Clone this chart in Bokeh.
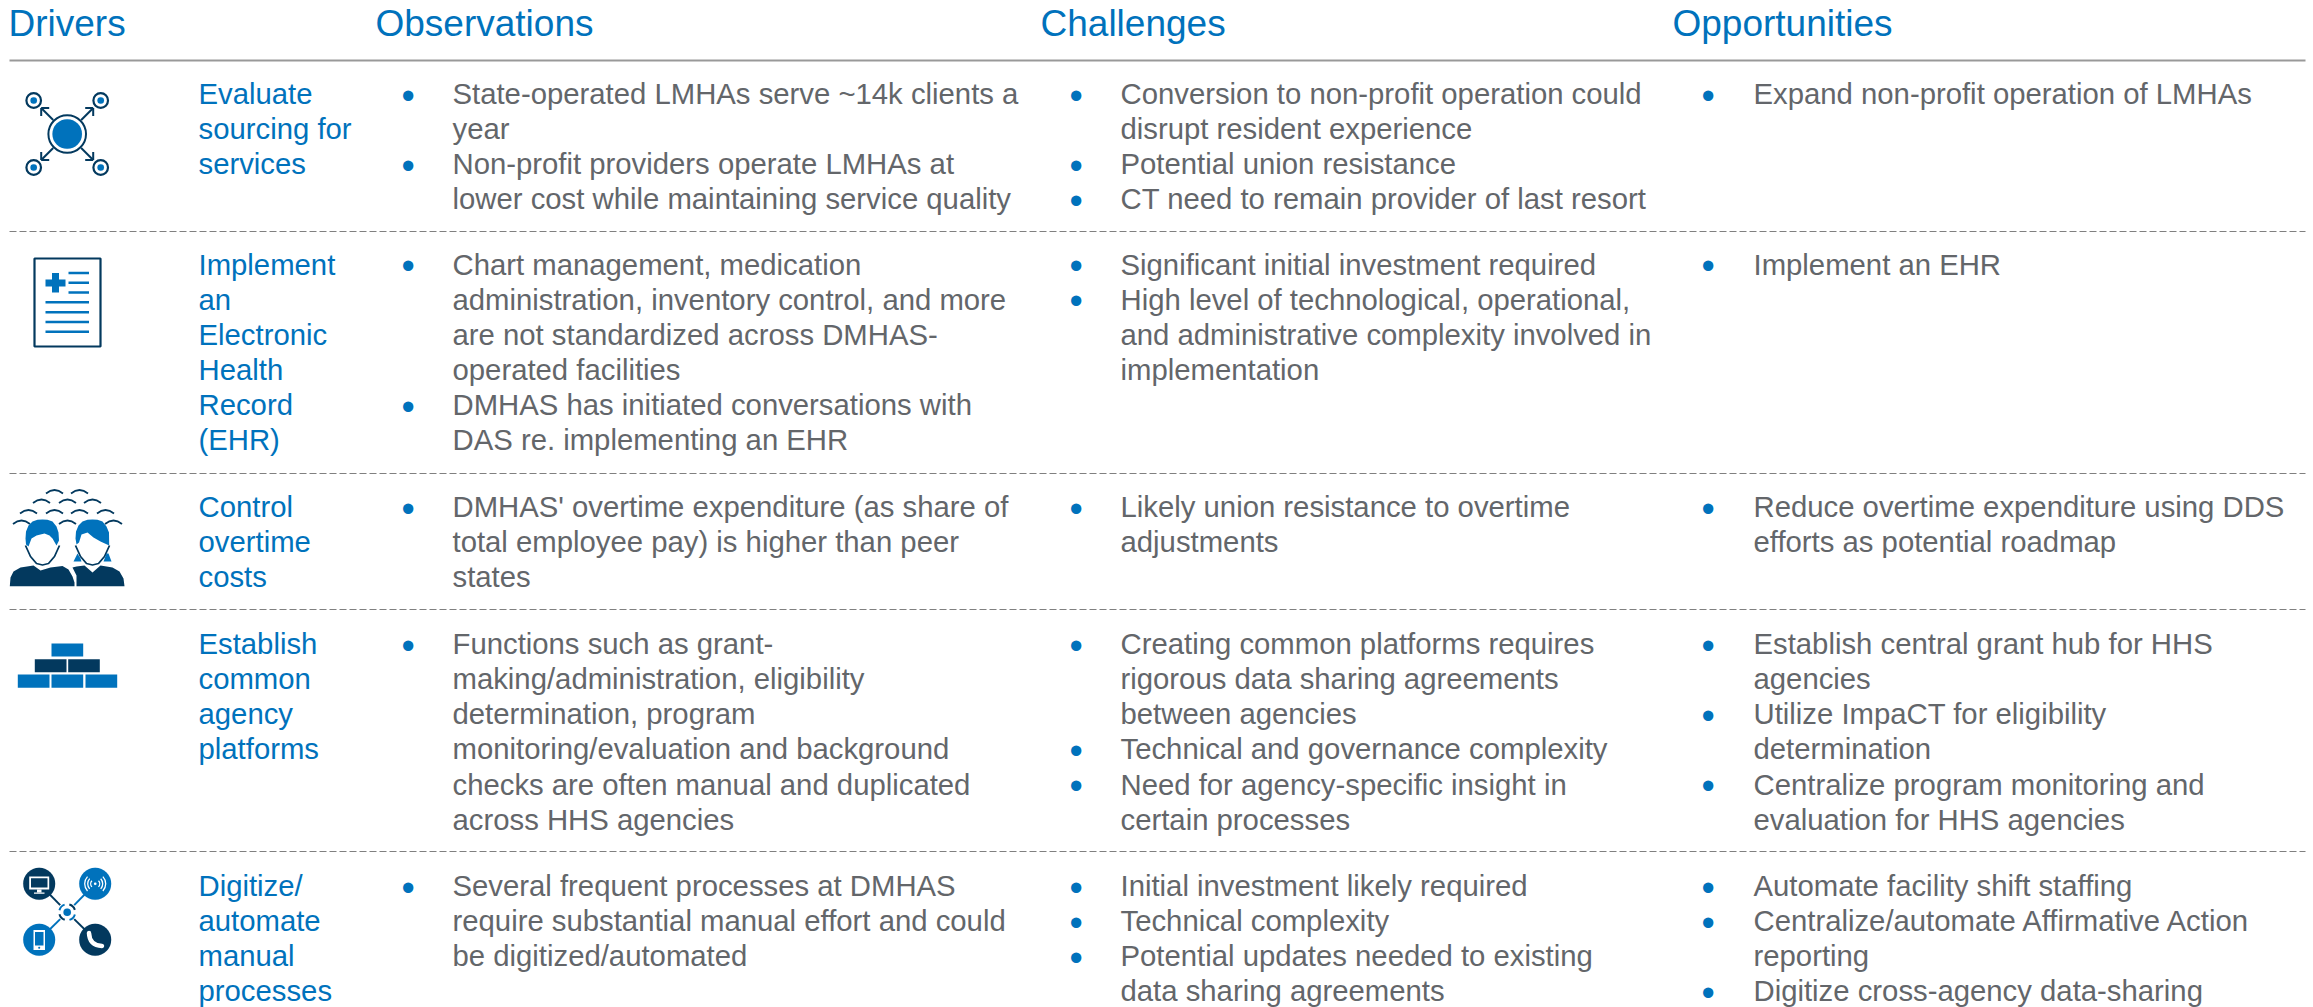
from bokeh.plotting import figure
from bokeh.models import Range1d
from bokeh.core.properties import value
from bokeh.embed import file_html
from bokeh.resources import INLINE

BLUE = "#0072BC"
NAVY = "#03395E"
GREY = "#63666A"
FONT = value("Liberation Sans")

headers = ["Drivers", "Observations", "Challenges", "Opportunities"]
drivers = [
    ["Evaluate", "sourcing for", "services"],
    ["Implement", "an", "Electronic", "Health", "Record", "(EHR)"],
    ["Control", "overtime", "costs"],
    ["Establish", "common", "agency", "platforms"],
    ["Digitize/", "automate", "manual", "processes"],
]
observations = [
    [["State-operated LMHAs serve ~14k clients a", "year"],
     ["Non-profit providers operate LMHAs at", "lower cost while maintaining service quality"]],
    [["Chart management, medication", "administration, inventory control, and more",
      "are not standardized across DMHAS-", "operated facilities"],
     ["DMHAS has initiated conversations with", "DAS re. implementing an EHR"]],
    [["DMHAS' overtime expenditure (as share of", "total employee pay) is higher than peer", "states"]],
    [["Functions such as grant-", "making/administration, eligibility", "determination, program",
      "monitoring/evaluation and background", "checks are often manual and duplicated", "across HHS agencies"]],
    [["Several frequent processes at DMHAS", "require substantial manual effort and could", "be digitized/automated"]],
]
challenges = [
    [["Conversion to non-profit operation could", "disrupt resident experience"],
     ["Potential union resistance"],
     ["CT need to remain provider of last resort"]],
    [["Significant initial investment required"],
     ["High level of technological, operational,", "and administrative complexity involved in", "implementation"]],
    [["Likely union resistance to overtime", "adjustments"]],
    [["Creating common platforms requires", "rigorous data sharing agreements", "between agencies"],
     ["Technical and governance complexity"],
     ["Need for agency-specific insight in", "certain processes"]],
    [["Initial investment likely required"],
     ["Technical complexity"],
     ["Potential updates needed to existing", "data sharing agreements"]],
]
opportunities = [
    [["Expand non-profit operation of LMHAs"]],
    [["Implement an EHR"]],
    [["Reduce overtime expenditure using DDS", "efforts as potential roadmap"]],
    [["Establish central grant hub for HHS", "agencies"],
     ["Utilize ImpaCT for eligibility", "determination"],
     ["Centralize program monitoring and", "evaluation for HHS agencies"]],
    [["Automate facility shift staffing"],
     ["Centralize/automate Affirmative Action", "reporting"],
     ["Digitize cross-agency data-sharing"]],
]

# layout
HEADER_X = [8, 375, 1040, 1672]
HEADER_Y = 36
DRIVER_X = 198
ROW_Y = [104, 274.5, 517, 654, 896]
LEAD = 35.15
COLS = [(observations, 401, 452), (challenges, 1069, 1120), (opportunities, 1701, 1753)]
RULE_Y = 60
DASH_Y = [231, 473, 609, 851]
XL, XR = 9, 2305
TEXT_DY = -11

p = figure(width=2313, height=1007, x_range=Range1d(0, 2313), y_range=Range1d(1007, 0),
           output_backend="svg", toolbar_location=None, min_border=0)
p.axis.visible = False
p.grid.visible = False
p.outline_line_color = None
p.background_fill_color = "white"

# rules
p.line([XL, XR], [RULE_Y, RULE_Y], line_color="#999999", line_width=2)
for y in DASH_Y:
    p.line([XL, XR], [y, y], line_color="#808080", line_width=1.2, line_dash="7 3")

# texts
def put(xs, ys, ts, color, size, dy=TEXT_DY):
    p.text(x=xs, y=[v + dy for v in ys], text=ts, text_color=color, text_font=FONT, text_font_size=size,
           text_baseline="alphabetic", text_align="left")

put(HEADER_X, [HEADER_Y] * 4, headers, BLUE, "37px", -13)

dx, dy, dt = [], [], []
for lines, y0 in zip(drivers, ROW_Y):
    for i, t in enumerate(lines):
        dx.append(DRIVER_X); dy.append(y0 + i * LEAD); dt.append(t)
put(dx, dy, dt, BLUE, "29.3px")

tx, ty, tt, bx, by = [], [], [], [], []
for col, xb, xt in COLS:
    for items, y0 in zip(col, ROW_Y):
        n = 0
        for item in items:
            bx.append(xb); by.append(y0 + n * LEAD)
            for t in item:
                tx.append(xt); ty.append(y0 + n * LEAD); tt.append(t)
                n += 1
put(tx, ty, tt, GREY, "29.3px")
put(bx, by, ["•"] * len(bx), BLUE, "38px", -9)

# ---------- icons (decorative geometry) ----------
def ring(x, y, r, color, w=2, fill=None):
    p.circle(x=[x], y=[y], radius=r, line_color=color, line_width=w,
             fill_color=fill if fill else None)

def seg(x0, y0, x1, y1, color, w=2, cap="butt"):
    p.line([x0, x1], [y0, y1], line_color=color, line_width=w, line_cap=cap)

def poly(xs, ys, color):
    p.patch(xs, ys, fill_color=color, line_color=None)

def box(l, r, t, b, color):
    p.quad(left=[l], right=[r], top=[t], bottom=[b], fill_color=color, line_color=None)

# icon 1
cx, cy = 66.7, 133.5
ring(cx, cy, 18.8, NAVY, 2)
ring(cx, cy, 14.8, BLUE, 0.1, BLUE)
for sx in (-1, 1):
    for sy in (-1, 1):
        x, y = cx + sx * 33.5, cy + sy * 33.5
        ring(x, y, 7.3, NAVY, 2.2)
        ring(x, y, 3.3, BLUE, 0.1, BLUE)
        ex, ey = cx + sx * 26, cy + sy * 26
        seg(cx + sx * 14, cy + sy * 14, ex, ey, NAVY, 2)
        seg(ex, ey, ex - sx * 8, ey, NAVY, 2)
        seg(ex, ey, ex, ey - sy * 8, NAVY, 2)

# icon 2
p.quad(left=[34], right=[100], top=[258], bottom=[346], fill_color=None,
       line_color=NAVY, line_width=2.2)
box(45, 65, 279, 286, BLUE)
box(51.5, 58.5, 272.5, 292, BLUE)
for y in (272.5, 282.3, 292):
    seg(68, y, 88.5, y, BLUE, 2.4)
for y in (301.7, 311.7, 321.5, 331.3):
    seg(45, y, 88.5, y, BLUE, 2.4)

# icon 3
arc_rows = [(490, [54, 79]), (499.5, [41, 67, 92]), (510, [28, 54, 79, 105]), (520.5, [21, 67, 113])]
for y, xs in arc_rows:
    for x in xs:
        p.quadratic(x0=[x - 8.5], y0=[y + 3], x1=[x + 8.5], y1=[y + 3], cx=[x], cy=[y - 4],
                    line_color=NAVY, line_width=1.7)
# man
poly([25, 25.5, 28, 32, 37, 42, 47, 52, 56, 58, 58.5, 56, 52, 49, 44, 36, 31, 28, 25.5],
     [538, 531, 525, 521, 519.3, 519, 519.3, 521, 526, 532, 540, 545, 538, 535, 533, 535, 538, 546, 544], BLUE)
p.line([25, 30, 36, 42, 48, 54, 59], [545, 556, 563, 564.5, 563, 556, 545], line_color=NAVY, line_width=1.8)
poly([9.3, 10, 13, 20, 33, 40, 50, 62, 68, 72, 74, 74],
     [585.7, 577, 571, 567, 565, 570, 567, 565.5, 569, 576, 582, 585.7], NAVY)
# woman
poly([75, 75.5, 78, 82, 87, 92, 97, 102, 106, 108.5, 108.7, 100, 93, 87, 81, 78.5, 76],
     [538, 531, 525, 521, 519.3, 519, 519.3, 521, 526, 532, 545, 541, 537, 532, 534, 542, 544], BLUE)
p.line([75, 80, 86, 92, 98, 104, 109], [545, 556, 563, 564.5, 563, 556, 545], line_color=NAVY, line_width=1.8)
poly([73, 77, 80, 81], [561, 553, 558, 561], BLUE)
poly([103, 106, 108, 111], [561, 553, 553, 561], BLUE)
poly([72, 76, 84, 92, 100, 112, 119, 123, 124, 76, 76],
     [567, 566, 565, 572, 565, 567, 571, 578, 585.7, 585.7, 575], NAVY)

# icon 4
for l, r, t, b, c in [(51, 82.7, 643, 656, BLUE),
                      (34.3, 66, 658.7, 671.7, NAVY), (67.7, 99.3, 658.7, 671.7, NAVY),
                      (17.3, 49, 674, 687.3, BLUE), (51, 82.7, 674, 687.3, BLUE), (85, 116.7, 674, 687.3, BLUE)]:
    box(l, r, t, b, c)

# icon 5
hub_x, hub_y = 66.7, 911.7
nodes = [(38.7, 883.3, NAVY), (94.7, 883.3, BLUE), (38.7, 939.3, BLUE), (94.7, 939.3, NAVY)]
for x, y, c in nodes:
    seg(x, y, hub_x + (x - hub_x) * 0.25, hub_y + (y - hub_y) * 0.25, c, 2)
for x, y, c in nodes:
    ring(x, y, 16, c, 0.1, c)
ring(hub_x, hub_y, 3.8, BLUE, 0.1, BLUE)
p.arc(x=[hub_x], y=[hub_y], radius=8, start_angle=[0.3], end_angle=[1.3], line_color=NAVY, line_width=2)
p.arc(x=[hub_x], y=[hub_y], radius=8, start_angle=[3.4], end_angle=[4.4], line_color=NAVY, line_width=2)
p.arc(x=[hub_x], y=[hub_y], radius=8, start_angle=[1.9], end_angle=[2.9], line_color=BLUE, line_width=2)
p.arc(x=[hub_x], y=[hub_y], radius=8, start_angle=[5.0], end_angle=[6.0], line_color=BLUE, line_width=2)
# monitor
box(28.7, 48.7, 876, 889, "white")
box(30.5, 47, 877.8, 887, NAVY)
box(36.5, 41, 889, 892, "white")
box(33.5, 44, 892, 893.3, "white")
# wifi
ring(94.7, 883.3, 1.3, "white", 0.1, "white")
for r in (4.5, 7.5, 10.5):
    for a0, a1 in ((-0.75, 0.75), (2.39, 3.89)):
        p.arc(x=[94.7], y=[883.3], radius=r, start_angle=[a0], end_angle=[a1],
              line_color="white", line_width=1.3)
# phone
box(33, 44.5, 929.5, 949.5, "white")
box(34.5, 43, 931.5, 945, BLUE)
ring(38.7, 947.2, 1, BLUE, 0.1, BLUE)
# handset
p.quadratic(x0=[88.5], y0=[932.5], x1=[101.5], y1=[945.5], cx=[89], cy=[945],
            line_color="white", line_width=4.5, line_cap="round")

open("out.html", "w").write(file_html(p, INLINE))
